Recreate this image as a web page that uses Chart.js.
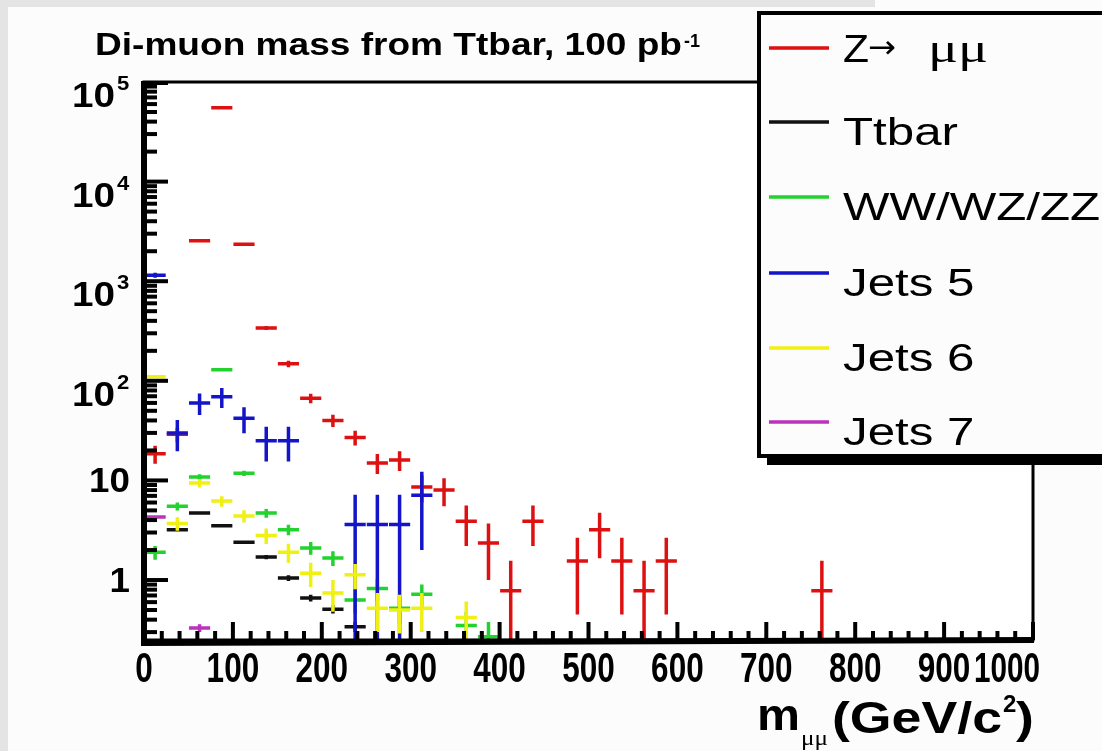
<!DOCTYPE html>
<html>
<head>
<meta charset="utf-8">
<script src="https://cdn.jsdelivr.net/npm/chart.js@4.4.1/dist/chart.umd.min.js"></script>
<style>
html, body { margin: 0; padding: 0; background: #e4e4e4; overflow: hidden; }
canvas { display: block; }
</style>
</head>
<body>
<canvas id="graph" width="1102" height="751"></canvas>
<script>
// bin centres, 25 GeV bins
const massBins = [12.5, 37.5, 62.5, 87.5, 112.5, 137.5, 162.5, 187.5, 212.5, 237.5,
  262.5, 287.5, 312.5, 337.5, 362.5, 387.5, 412.5, 437.5, 462.5, 487.5,
  512.5, 537.5, 562.5, 587.5, 612.5, 637.5, 662.5, 687.5, 712.5, 737.5, 762.5]
const binWidth = 25

const zmumu = [18.5, 29, 2550, 55000, 2350, 340, 148, 67, 40, 27,
  15, 16, 8.6, 8.0, 3.9, 2.35, 0.78, 3.9, null, 1.55,
  3.2, 1.55, 0.78, 1.55, null, null, null, null, null, null, 0.78]
const zmumuErr = [3.8, 4.8, 45, 208, 43, 16, 11, 7.3, 5.6, 4.6,
  3.4, 3.6, 2.6, 2.5, 1.7, 1.35, 0.78, 1.7, null, 1.1,
  1.55, 1.1, 0.78, 1.1, null, null, null, null, null, null, 0.78]

const ttbar = [null, 3.2, 4.7, 3.5, 2.4, 1.7, 1.05, 0.66, 0.51, 0.34]
const ttbarErr = [null, 0.12, 0.14, 0.12, 0.1, 0.08, 0.07, 0.05, 0.05, 0.04]

const diboson = [1.9, 5.5, 10.8, 129, 11.8, 4.7, 3.2, 2.1, 1.66, 0.63, 0.82, 0.52, 0.72, null, 0.35, 0.27]
const dibosonErr = [0.3, 0.5, 0.71, 2.5, 0.74, 0.47, 0.39, 0.31, 0.28, 0.17, 0.2, 0.16, 0.18, null, 0.13, 0.11]

const jets5 = [1150, 30, 60, 69, 42, 25, 25, null, null, 3.6, 3.6, 3.6, 7.1]
const jets5Err = [64, 10.4, 14.7, 15.8, 12.3, 9.5, 9.5, null, null, 3.6, 3.6, 3.6, 5.1]

const jets6 = [110, 3.7, 9.4, 6.2, 4.4, 2.8, 1.9, 1.17, 0.74, 1.13, 0.52, 0.5, 0.52, null, 0.42]
const jets6Err = [3.1, 0.58, 0.92, 0.75, 0.63, 0.5, 0.41, 0.32, 0.26, 0.32, 0.22, 0.21, 0.22, null, 0.19]

const jets7 = [4.3, null, 0.33]
const jets7Err = [0.15, null, 0.03]

const xTickLabels = ['0', '100', '200', '300', '400', '500', '600', '700', '800', '900', '1000']
const yTickLabels = ['1', '10', '10^2', '10^3', '10^4', '10^5']

function points(vals, errs) {
  return massBins.map((x, i) => vals[i] == null ? null : {x: x, y: vals[i], e: errs[i]}).filter(p => p)
}

function txt(ctx, s, x, y, font, o) {
  o = o || {}
  ctx.font = font
  let m = ctx.measureText(s).width
  let sx = o.width ? o.width / m : (o.sx || 1)
  let w = m * sx
  let x0 = x
  if (o.align == 'right') x0 = x - w
  else if (o.align == 'center') x0 = x - w / 2
  ctx.save()
  ctx.translate(x0, y)
  ctx.scale(sx, 1)
  ctx.textAlign = 'left'
  ctx.textBaseline = 'alphabetic'
  ctx.fillStyle = o.color || '#000'
  ctx.fillText(s, 0, 0)
  ctx.restore()
  return {w: w, sx: sx}
}

const rootStyle = {
  id: 'rootStyle',
  beforeDraw(chart) {
    let ctx = chart.ctx, a = chart.chartArea
    ctx.save()
    ctx.fillStyle = '#e4e4e4'
    ctx.fillRect(0, 0, chart.width, chart.height)
    ctx.fillStyle = '#fcfcfc'
    ctx.fillRect(8, 7, chart.width - 8, chart.height - 7)
    ctx.fillRect(875, 0, chart.width - 875, 10)
    ctx.fillStyle = '#ffffff'
    ctx.fillRect(a.left, a.top, a.right - a.left, a.bottom - a.top)
    ctx.restore()
  },
  afterDatasetsDraw(chart) {
    let ctx = chart.ctx, a = chart.chartArea
    let xs = chart.scales.x, ys = chart.scales.y

    // error crosses
    ctx.save()
    ctx.beginPath()
    ctx.rect(a.left, a.top, a.right - a.left, a.bottom - a.top)
    ctx.clip()
    chart.data.datasets.forEach((ds, i) => {
      let meta = chart.getDatasetMeta(i)
      ctx.strokeStyle = ds.borderColor
      ctx.lineWidth = 3.5
      meta.data.forEach((el, j) => {
        let p = ds.data[j]
        let x1 = xs.getPixelForValue(p.x - binWidth / 2 + 0.6)
        let x2 = xs.getPixelForValue(p.x + binWidth / 2 - 0.6)
        let yt = ys.getPixelForValue(p.y + p.e)
        let lo = p.y - p.e
        let yb = lo > 0.01 ? ys.getPixelForValue(lo) : a.bottom + 10
        ctx.beginPath()
        ctx.moveTo(x1, el.y); ctx.lineTo(x2, el.y)
        ctx.moveTo(el.x, yt); ctx.lineTo(el.x, yb)
        ctx.stroke()
      })
    })
    ctx.restore()

    ctx.save()
    ctx.strokeStyle = '#000'
    // frame
    ctx.lineWidth = 3
    ctx.strokeRect(a.left, a.top, a.right - a.left, a.bottom - a.top)
    ctx.lineWidth = 6
    ctx.beginPath()
    ctx.moveTo(a.left, a.top - 1); ctx.lineTo(a.left, a.bottom + 3)
    ctx.lineTo(a.right + 1, a.bottom)
    ctx.stroke()

    // y ticks (inside)
    ctx.lineWidth = 4
    for (let n = -1; n <= 4; n++) {
      for (let k = 1; k <= 9; k++) {
        let v = k * Math.pow(10, n)
        if (v < ys.min || v > ys.max) continue
        let y = ys.getPixelForValue(v)
        let len = k == 1 ? 24 : 13
        ctx.beginPath(); ctx.moveTo(a.left, y); ctx.lineTo(a.left + len, y); ctx.stroke()
      }
    }
    let yt = ys.getPixelForValue(ys.max)
    ctx.beginPath(); ctx.moveTo(a.left, yt + 1); ctx.lineTo(a.left + 24, yt + 1); ctx.stroke()

    // x ticks (inside)
    for (let v = 0; v <= 1000; v += 20) {
      let x = xs.getPixelForValue(v)
      let len = v % 100 == 0 ? 18 : 9
      ctx.beginPath(); ctx.moveTo(x, a.bottom); ctx.lineTo(x, a.bottom - len); ctx.stroke()
    }
    ctx.restore()

    // y labels
    yTickLabels.forEach((lab, n) => {
      let y = ys.getPixelForValue(Math.pow(10, n))
      let parts = lab.split('^')
      if (parts.length == 2) {
        let r = txt(ctx, parts[0], 115, y + 25, 'bold 35px "Liberation Sans"', {align: 'right', width: 43})
        txt(ctx, parts[1], 117, y + 8, 'bold 20px "Liberation Sans"', {sx: r.sx})
      } else {
        txt(ctx, parts[0], 130, y + 12, 'bold 35px "Liberation Sans"', {align: 'right', sx: 1.05})
      }
    })

    // x labels
    xTickLabels.forEach((lab, i) => {
      let x = xs.getPixelForValue(Number(lab))
      if (i == xTickLabels.length - 1) {
        txt(ctx, lab, 1040, 682, 'bold 42px "Liberation Sans"', {align: 'right', width: 66})
      } else {
        txt(ctx, lab, x, 682, 'bold 42px "Liberation Sans"', {align: 'center', sx: 0.75})
      }
    })

    // axis title
    txt(ctx, 'm', 757, 730, 'bold 44px "Liberation Sans"', {width: 43})
    txt(ctx, 'μμ', 801, 745, '22px "Liberation Serif"', {width: 27})
    let r2 = txt(ctx, '(GeV/c', 832, 733, 'bold 44px "Liberation Sans"', {width: 170})
    txt(ctx, '2', 1003, 712, 'bold 24px "Liberation Sans"', {sx: 1})
    txt(ctx, ')', 1016, 733, 'bold 44px "Liberation Sans"', {sx: r2.sx})

    // title
    txt(ctx, 'Di-muon mass from Ttbar, 100 pb', 95, 55, 'bold 32px "Liberation Sans"', {width: 587})
    txt(ctx, '-1', 684, 47, 'bold 18px "Liberation Sans"', {width: 16})

    // legend box with shadow
    ctx.save()
    ctx.fillStyle = '#000'
    ctx.fillRect(767, 19, 400, 446)
    ctx.fillStyle = '#fcfcfc'
    ctx.fillRect(757, 11, 400, 447)
    ctx.lineWidth = 4
    ctx.strokeStyle = '#000'
    ctx.strokeRect(759, 13, 400, 443)
    ctx.restore()

    let rows = [48, 122, 197, 273, 348, 422]
    ctx.save()
    ctx.font = '38px "Liberation Sans"'
    let lsx = 115 / ctx.measureText('Ttbar').width
    ctx.restore()
    chart.data.datasets.forEach((ds, i) => {
      let y = rows[i]
      ctx.save()
      ctx.strokeStyle = ds.borderColor
      ctx.lineWidth = 3.5
      ctx.beginPath(); ctx.moveTo(769, y); ctx.lineTo(829, y); ctx.stroke()
      ctx.restore()
      if (i == 0) {
        txt(ctx, 'Z', 843, y + 14, '39px "Liberation Sans"', {width: 26})
        txt(ctx, '→', 868, y + 10, '32px "DejaVu Sans"', {width: 28})
        txt(ctx, 'μμ', 928, y + 14, '40px "Liberation Serif"', {width: 60})
      } else {
        txt(ctx, ds.label, 843, y + 23, '38px "Liberation Sans"', {sx: lsx})
      }
    })
  }
}

const graph = document.getElementById('graph').getContext('2d')

new Chart(graph, {
  type: 'scatter',
  data: {
    datasets: [
      {label: 'Z→ μμ', data: points(zmumu, zmumuErr), borderColor: '#dd1111'},
      {label: 'Ttbar', data: points(ttbar, ttbarErr), borderColor: '#111111'},
      {label: 'WW/WZ/ZZ', data: points(diboson, dibosonErr), borderColor: '#22d22e'},
      {label: 'Jets 5', data: points(jets5, jets5Err), borderColor: '#1414c8'},
      {label: 'Jets 6', data: points(jets6, jets6Err), borderColor: '#f0f012'},
      {label: 'Jets 7', data: points(jets7, jets7Err), borderColor: '#bb33bb'}
    ]
  },
  options: {
    responsive: false,
    animation: false,
    devicePixelRatio: 1,
    layout: {padding: {left: 144, top: 82, right: 69, bottom: 111}},
    elements: {point: {radius: 0, hoverRadius: 0}},
    plugins: {legend: {display: false}, tooltip: {enabled: false}},
    scales: {
      x: {type: 'linear', min: 0, max: 1000, display: false},
      y: {type: 'logarithmic', min: 0.25, max: 100000, display: false}
    }
  },
  plugins: [rootStyle]
})
</script>
</body>
</html>
